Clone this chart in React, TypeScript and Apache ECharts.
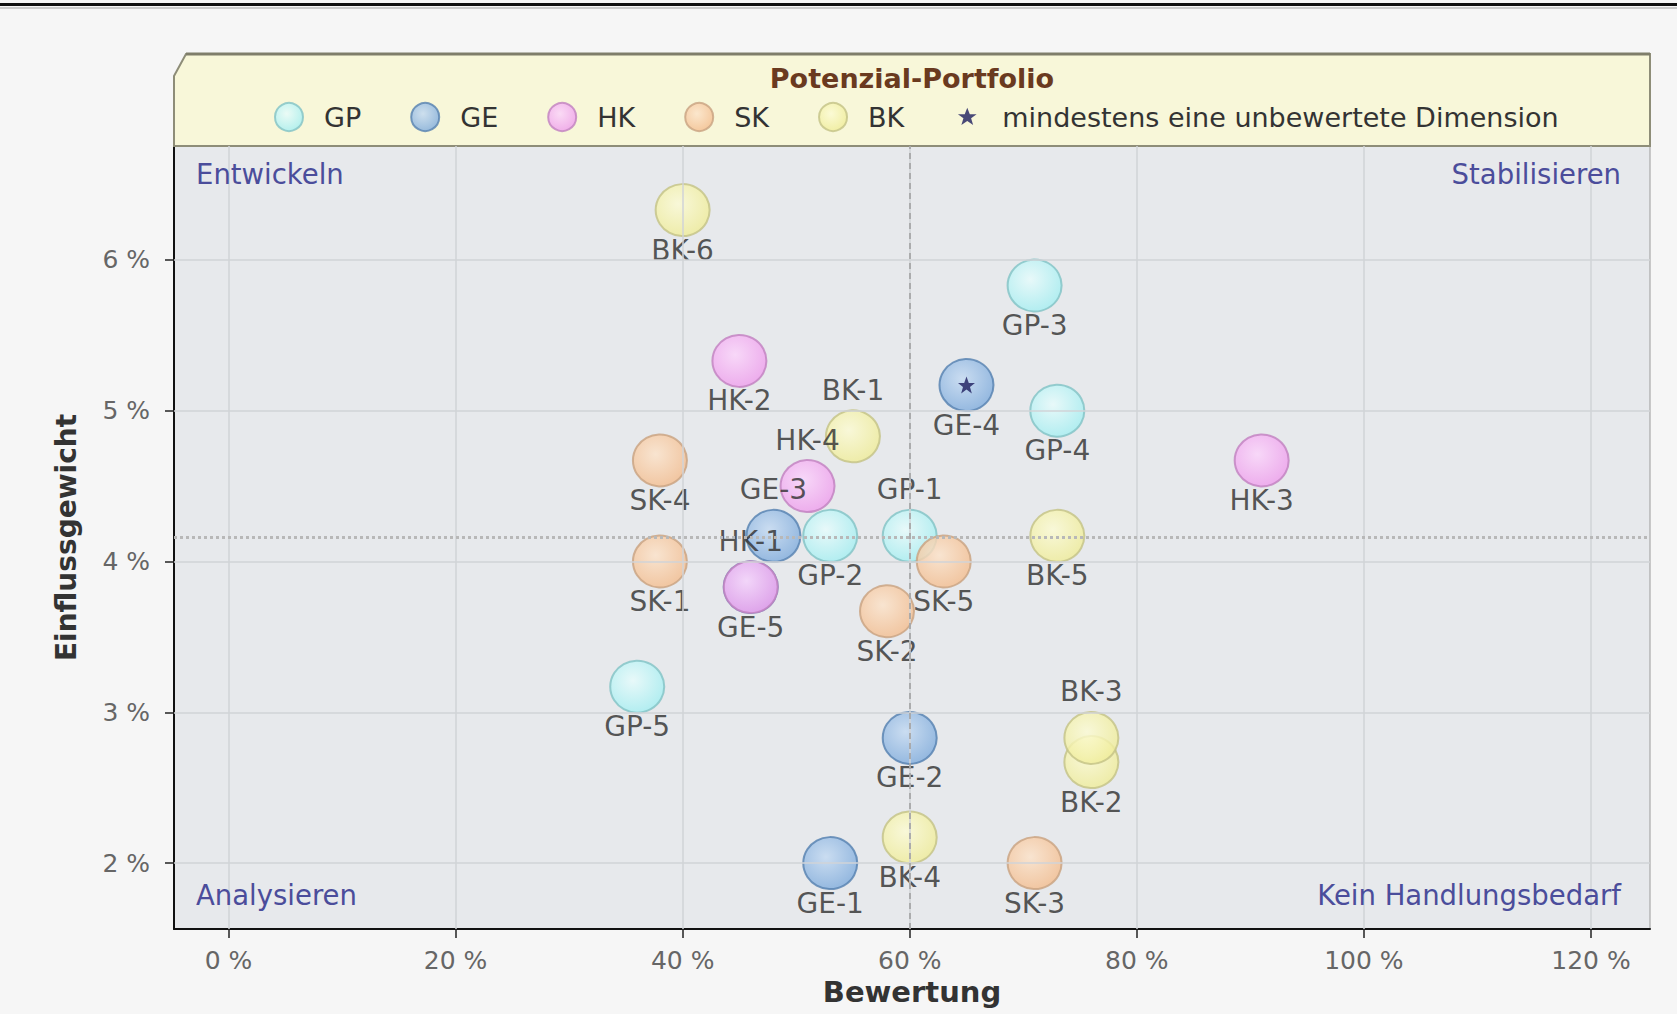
import React, { useEffect, useRef } from "react";
import * as echarts from "echarts";

// ---------- data ----------
const X_TICKS = [0, 20, 40, 60, 80, 100, 120];
const Y_TICKS = [2, 3, 4, 5, 6];
const X_MIN = -4.8;
const X_MAX = 125.2;
const Y_MIN = 1.563;
const Y_MAX = 6.755;
const THRESHOLD_X = 60;
const THRESHOLD_Y = 4.16;

const GP_NAMES = ["GP-1", "GP-2", "GP-3", "GP-4", "GP-5"];
const GP_X = [60, 53, 71, 73, 36];
const GP_Y = [4.17, 4.17, 5.83, 5.0, 3.17];

const GE_NAMES = ["GE-1", "GE-2", "GE-3", "GE-4", "GE-5"];
const GE_X = [53, 60, 48, 65, 46];
const GE_Y = [2.0, 2.83, 4.17, 5.17, 3.83];

const HK_NAMES = ["HK-1", "HK-2", "HK-3", "HK-4"];
const HK_X = [46, 45, 91, 51];
const HK_Y = [3.83, 5.33, 4.67, 4.5];

const SK_NAMES = ["SK-1", "SK-2", "SK-3", "SK-4", "SK-5"];
const SK_X = [38, 58, 71, 38, 63];
const SK_Y = [4.0, 3.67, 2.0, 4.67, 4.0];

const BK_NAMES = ["BK-1", "BK-2", "BK-3", "BK-4", "BK-5", "BK-6"];
const BK_X = [55, 76, 76, 60, 73, 40];
const BK_Y = [4.83, 2.67, 2.83, 2.17, 4.17, 6.33];

const UNRATED = ["GE-4"];
const STAR_NAME = "mindestens eine unbewertete Dimension";
const LABEL_ABOVE = ["BK-1", "HK-4", "GE-3", "GP-1", "HK-1", "BK-3"];

const TITLE = "Potenzial-Portfolio";
const X_NAME = "Bewertung";
const Y_NAME = "Einflussgewicht";
const QUADRANTS = ["Entwickeln", "Stabilisieren", "Analysieren", "Kein Handlungsbedarf"];

// ---------- styles ----------
const FONT = "DejaVu Sans";
const GROUPS = [
  { key: "GP", names: GP_NAMES, xs: GP_X, ys: GP_Y, c0: "#e8fcfc", c1: "#a4eef1", border: "#84c3c6" },
  { key: "GE", names: GE_NAMES, xs: GE_X, ys: GE_Y, c0: "#c4daf2", c1: "#80acdc", border: "#5882b1" },
  { key: "HK", names: HK_NAMES, xs: HK_X, ys: HK_Y, c0: "#fbd4fb", c1: "#ee9eec", border: "#c282c1" },
  { key: "SK", names: SK_NAMES, xs: SK_X, ys: SK_Y, c0: "#fce3ca", c1: "#f3bd8f", border: "#c9a483" },
  { key: "BK", names: BK_NAMES, xs: BK_X, ys: BK_Y, c0: "#fcfbd4", c1: "#efec98", border: "#c4c388" },
];

const STAR_PATH =
  "M50,22L57.6,41.6L78,41.6L61.5,54L67.6,74L50,62L32.4,74L38.5,54L22,41.6L42.4,41.6Z";
const STAR_ICON = "path://M8,8L8,8ZM92,92L92,92Z" + STAR_PATH;

function buildOption() {
  const bubbleSeries = GROUPS.map((g) => ({
    type: "scatter",
    name: g.key,
    z: 3,
    symbol: "circle",
    symbolSize: [54, 52],
    itemStyle: {
      color: {
        type: "radial",
        x: 0.42,
        y: 0.38,
        r: 0.65,
        colorStops: [
          { offset: 0, color: g.c0 },
          { offset: 1, color: g.c1 },
        ],
      },
      borderColor: g.border,
      borderWidth: 2,
      opacity: 0.82,
    },
    emphasis: { disabled: true },
    label: {
      show: true,
      formatter: "{b}",
      fontFamily: FONT,
      fontSize: 28,
      lineHeight: 30,
      color: "#333333",
    },
    data: g.names.map((n, i) => {
      const above = LABEL_ABOVE.includes(n);
      return {
        name: n,
        value: [g.xs[i], g.ys[i]],
        label: { position: above ? "top" : "bottom", distance: above ? 4 : -2 },
      };
    }),
  }));

  const starData = UNRATED.map((n) => {
    const g = GROUPS.find((gr) => gr.names.includes(n))!;
    const i = g.names.indexOf(n);
    return { name: n, value: [g.xs[i], g.ys[i]] };
  });

  const starSeries = {
    type: "scatter",
    name: STAR_NAME,
    z: 4,
    symbol: "path://" + STAR_PATH,
    symbolSize: 17,
    itemStyle: { color: "#1d1d5e" },
    emphasis: { disabled: true },
    label: { show: false },
    data: starData,
  };

  const gridSeries = {
    type: "scatter",
    name: "__grid",
    z: 1,
    silent: true,
    data: [],
    markLine: {
      silent: true,
      animation: false,
      symbol: ["none", "none"],
      label: { show: false },
      lineStyle: { color: "#d0d3d7", width: 1.5, type: "solid" },
      data: [
        ...X_TICKS.map((v) => ({ xAxis: v })),
        ...Y_TICKS.map((v) => ({ yAxis: v })),
      ],
    },
  };

  const thresholdSeries = {
    type: "scatter",
    name: "__threshold",
    z: 2,
    silent: true,
    data: [],
    markLine: {
      silent: true,
      animation: false,
      symbol: ["none", "none"],
      label: { show: false },
      data: [
        { xAxis: THRESHOLD_X, lineStyle: { color: "#9d9d9d", width: 1.5, type: [6, 4] } },
        { yAxis: THRESHOLD_Y, lineStyle: { color: "#b8b8b8", width: 3, type: [3, 3] } },
      ],
    },
  };

  const quadStyle = { fontFamily: FONT, fontSize: 27.5, fill: "#4b4d9b" };

  return {
    animation: false,
    backgroundColor: "#f6f6f6",
    textStyle: { fontFamily: FONT },
    grid: {
      left: 174,
      right: 27,
      top: 146,
      bottom: 85,
      show: true,
      backgroundColor: "#e7e9ec",
      borderColor: "#9a9a9a",
      borderWidth: 1,
    },
    legend: {
      z: 5,
      left: 269,
      top: 97,
      itemWidth: 28,
      itemHeight: 28,
      itemGap: 49,
      selectedMode: false,
      textStyle: {
        fontFamily: FONT,
        fontSize: 27,
        color: "#333333",
        padding: [0, 0, 0, 16],
      },
      data: [
        ...GROUPS.map((g) => ({ name: g.key, icon: "circle" })),
        { name: STAR_NAME, icon: STAR_ICON, itemStyle: { color: "#1d1d5e", borderWidth: 0 } },
      ],
    },
    xAxis: {
      type: "value",
      min: X_MIN,
      max: X_MAX,
      name: X_NAME,
      nameLocation: "middle",
      nameGap: 45,
      nameTextStyle: { fontFamily: FONT, fontSize: 29, fontWeight: "bold", color: "#333333" },
      axisLine: { show: true, onZero: false, lineStyle: { color: "#111111", width: 2 } },
      axisTick: { show: true, customValues: X_TICKS, length: 9, lineStyle: { color: "#222222", width: 1.5 } },
      axisLabel: {
        customValues: X_TICKS,
        margin: 19,
        fontFamily: FONT,
        fontSize: 25,
        color: "#666666",
        formatter: (v: number) => `${v} %`,
      },
      splitLine: { show: false },
    },
    yAxis: {
      type: "value",
      min: Y_MIN,
      max: Y_MAX,
      name: Y_NAME,
      nameLocation: "middle",
      nameGap: 94,
      nameTextStyle: { fontFamily: FONT, fontSize: 28, fontWeight: "bold", color: "#333333" },
      axisLine: { show: true, onZero: false, lineStyle: { color: "#111111", width: 2 } },
      axisTick: { show: true, customValues: Y_TICKS, length: 9, lineStyle: { color: "#222222", width: 1.5 } },
      axisLabel: {
        customValues: Y_TICKS,
        margin: 24,
        fontFamily: FONT,
        fontSize: 25,
        color: "#666666",
        formatter: (v: number) => `${v} %`,
      },
      splitLine: { show: false },
    },
    graphic: [
      { type: "rect", z: 0, shape: { x: 0, y: 3, width: 1677, height: 3 }, style: { fill: "#111111" } },
      { type: "rect", z: 0, shape: { x: 0, y: 7, width: 1677, height: 2 }, style: { fill: "#cccccc" } },
      {
        type: "polygon",
        z: 1,
        shape: {
          points: [
            [174, 146],
            [174, 76],
            [186, 54],
            [1650, 54],
            [1650, 146],
          ],
        },
        style: { fill: "#f8f7d9", stroke: "#8e8d78", lineWidth: 2 },
      },
      { type: "line", z: 1, shape: { x1: 186, y1: 54, x2: 1650, y2: 54 }, style: { stroke: "#7f7e6a", lineWidth: 3 } },
      {
        type: "text",
        z: 6,
        x: 912,
        y: 78,
        style: {
          text: TITLE,
          fontFamily: FONT,
          fontSize: 27,
          fontWeight: "bold",
          fill: "#6a3a1f",
          textAlign: "center",
          textVerticalAlign: "middle",
        },
      },
      { type: "text", z: 6, x: 196, y: 174, style: { ...quadStyle, text: QUADRANTS[0], textAlign: "left", textVerticalAlign: "middle" } },
      { type: "text", z: 6, x: 1621, y: 174, style: { ...quadStyle, text: QUADRANTS[1], textAlign: "right", textVerticalAlign: "middle" } },
      { type: "text", z: 6, x: 196, y: 895, style: { ...quadStyle, text: QUADRANTS[2], textAlign: "left", textVerticalAlign: "middle" } },
      { type: "text", z: 6, x: 1621, y: 895, style: { ...quadStyle, text: QUADRANTS[3], textAlign: "right", textVerticalAlign: "middle" } },
    ],
    series: [gridSeries, thresholdSeries, ...bubbleSeries, starSeries],
  };
}

export default function App() {
  const ref = useRef<HTMLDivElement>(null);
  useEffect(() => {
    document.body.style.margin = "0";
    const chart = echarts.init(ref.current!, null, { renderer: "svg" });
    chart.setOption(buildOption() as any);
    return () => chart.dispose();
  }, []);
  return (
    <div
      ref={ref}
      style={{ position: "absolute", left: 0, top: 0, width: 1677, height: 1014 }}
    />
  );
}
